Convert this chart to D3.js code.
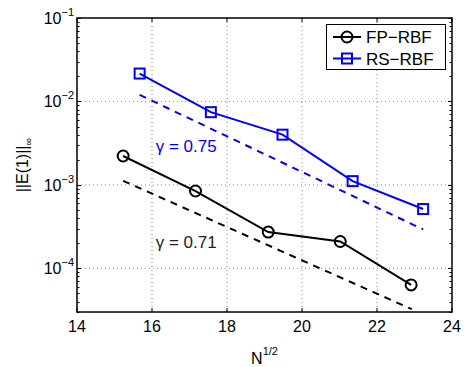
<!DOCTYPE html>
<html>
<head>
<meta charset="utf-8">
<script src="https://cdn.jsdelivr.net/npm/d3@7"></script>
<style>
  body { margin: 0; background: #fff; }
  svg { display: block; font-family: "Liberation Sans", Arial, sans-serif; }
</style>
</head>
<body>
<svg width="464" height="367"></svg>
<script>
// data
var fpX = [15.23, 17.16, 19.10, 21.02, 22.91];
var fpY = [2.22e-3, 8.45e-4, 2.72e-4, 2.10e-4, 6.34e-5];
var rsX = [15.67, 17.57, 19.48, 21.35, 23.23];
var rsY = [2.16e-2, 7.44e-3, 4.0e-3, 1.11e-3, 5.14e-4];
// reference slope lines (endpoints)
var fpFitX = [15.23, 22.93];
var fpFitY = [1.12e-3, 3.24e-5];
var rsFitX = [15.67, 23.23];
var rsFitY = [1.2e-2, 2.93e-4];
var xTicks = [14, 16, 18, 20, 22, 24];
var yTicks = [1e-4, 1e-3, 1e-2, 1e-1];
var yExp = ["\u22124", "\u22123", "\u22122", "\u22121"];

var svg = d3.select("svg"),
    margin = { top: 18, right: 12, bottom: 55, left: 77 },
    width = svg.attr("width") - margin.left - margin.right,
    height = svg.attr("height") - margin.top - margin.bottom;

var xScale = d3.scaleLinear().domain([14, 24]).range([0, width]),
    yScale = d3.scaleLog().domain([3e-5, 1e-1]).range([height, 0]);

var g = svg.append("g")
    .attr("transform", "translate(" + margin.left + "," + margin.top + ")");

// dotted grid
g.selectAll(".gx")
    .data(xTicks.slice(1, -1))
    .enter().append("line")
    .attr("x1", d => xScale(d)).attr("x2", d => xScale(d))
    .attr("y1", 0).attr("y2", height)
    .attr("stroke", "#888").attr("stroke-width", 1)
    .attr("stroke-dasharray", "1,3");
g.selectAll(".gy")
    .data(yTicks.slice(0, -1))
    .enter().append("line")
    .attr("x1", 0).attr("x2", width)
    .attr("y1", d => yScale(d)).attr("y2", d => yScale(d))
    .attr("stroke", "#888").attr("stroke-width", 1)
    .attr("stroke-dasharray", "1,3");

// minor/major ticks on log axis (left & right, inward)
var minor = [];
for (var e = -5; e < -1; e++) {
    for (var m = 1; m <= 9; m++) {
        var v = m * Math.pow(10, e);
        if (v >= 3e-5 && v <= 1e-1) minor.push({ v: v, major: m === 1 });
    }
}
minor.push({ v: 1e-1, major: true });
[0, width].forEach(function(x0) {
    var dir = x0 === 0 ? 1 : -1;
    g.selectAll(null)
        .data(minor)
        .enter().append("line")
        .attr("x1", x0)
        .attr("x2", d => x0 + dir * (d.major ? 4 : 2.5))
        .attr("y1", d => Math.round(yScale(d.v)) + 0.5)
        .attr("y2", d => Math.round(yScale(d.v)) + 0.5)
        .attr("stroke", "#000").attr("stroke-width", 1);
});
// x ticks (bottom & top, inward)
[0, height].forEach(function(y0) {
    var dir = y0 === 0 ? 1 : -1;
    g.selectAll(null)
        .data(xTicks)
        .enter().append("line")
        .attr("x1", d => xScale(d)).attr("x2", d => xScale(d))
        .attr("y1", y0).attr("y2", y0 + dir * 4)
        .attr("stroke", "#000").attr("stroke-width", 1);
});

// frame
g.append("rect")
    .attr("width", width).attr("height", height)
    .attr("fill", "none").attr("stroke", "#000").attr("stroke-width", 1.5);

// x tick labels
g.selectAll(".xl")
    .data(xTicks)
    .enter().append("text")
    .attr("x", d => xScale(d))
    .attr("y", height + 20)
    .attr("text-anchor", "middle")
    .attr("font-size", 16)
    .text(d => d);

// y tick labels
var yl = g.selectAll(".yl")
    .data(yTicks)
    .enter().append("text")
    .attr("x", -3)
    .attr("y", d => yScale(d) + 6)
    .attr("text-anchor", "end")
    .attr("font-size", 16);
yl.append("tspan").text("10");
yl.append("tspan").attr("dy", -8).attr("font-size", 11).text((d, i) => yExp[i]);

// axis labels
var xlab = svg.append("text")
    .attr("x", margin.left + width / 2)
    .attr("y", 364)
    .attr("text-anchor", "middle")
    .attr("font-size", 16);
xlab.append("tspan").text("N");
xlab.append("tspan").attr("dy", -9).attr("font-size", 11).text("1/2");

var ylab = svg.append("text")
    .attr("transform", "translate(28," + (margin.top + height / 2) + ") rotate(-90)")
    .attr("text-anchor", "middle")
    .attr("font-size", 16);
ylab.append("tspan").text("||E(1)||");
ylab.append("tspan").attr("dy", 4).attr("font-size", 11).text("\u221e");

var line = d3.line().x(d => xScale(d[0])).y(d => yScale(d[1]));

// reference slope lines
g.append("path")
    .attr("d", line(d3.zip(rsFitX, rsFitY)))
    .attr("fill", "none").attr("stroke", "#0000ff")
    .attr("stroke-width", 2).attr("stroke-dasharray", "7,6");
g.append("path")
    .attr("d", line(d3.zip(fpFitX, fpFitY)))
    .attr("fill", "none").attr("stroke", "#000")
    .attr("stroke-width", 2).attr("stroke-dasharray", "7,6");

// series
g.append("path")
    .attr("d", line(d3.zip(fpX, fpY)))
    .attr("fill", "none").attr("stroke", "#000").attr("stroke-width", 2);
g.selectAll(".fp")
    .data(d3.zip(fpX, fpY))
    .enter().append("circle")
    .attr("cx", d => xScale(d[0])).attr("cy", d => yScale(d[1]))
    .attr("r", 5.5)
    .attr("fill", "none").attr("stroke", "#000").attr("stroke-width", 2);

g.append("path")
    .attr("d", line(d3.zip(rsX, rsY)))
    .attr("fill", "none").attr("stroke", "#0000ff").attr("stroke-width", 2);
g.selectAll(".rs")
    .data(d3.zip(rsX, rsY))
    .enter().append("rect")
    .attr("x", d => xScale(d[0]) - 5).attr("y", d => yScale(d[1]) - 5)
    .attr("width", 10).attr("height", 10)
    .attr("fill", "none").attr("stroke", "#0000ff").attr("stroke-width", 2);

// slope annotations
g.append("text")
    .attr("x", xScale(16.1)).attr("y", 152 - margin.top)
    .attr("font-size", 17).attr("fill", "#0000ff")
    .text("\u03b3 = 0.75");
g.append("text")
    .attr("x", xScale(16.1)).attr("y", 248 - margin.top)
    .attr("font-size", 17).attr("fill", "#222")
    .text("\u03b3 = 0.71");

// legend
var leg = svg.append("g");
leg.append("rect")
    .attr("x", 326.5).attr("y", 24.5).attr("width", 119).attr("height", 45)
    .attr("fill", "#fff").attr("stroke", "#000").attr("stroke-width", 1);
var entries = [
    { name: "FP\u2212RBF", color: "#000", shape: "circle", y: 37 },
    { name: "RS\u2212RBF", color: "#0000ff", shape: "square", y: 58.5 }
];
entries.forEach(function(en) {
    leg.append("line")
        .attr("x1", 333).attr("x2", 361)
        .attr("y1", en.y).attr("y2", en.y)
        .attr("stroke", en.color).attr("stroke-width", 2);
    if (en.shape === "circle") {
        leg.append("circle").attr("cx", 347).attr("cy", en.y).attr("r", 5.5)
            .attr("fill", "none").attr("stroke", en.color).attr("stroke-width", 2);
    } else {
        leg.append("rect").attr("x", 342).attr("y", en.y - 5).attr("width", 10).attr("height", 10)
            .attr("fill", "none").attr("stroke", en.color).attr("stroke-width", 2);
    }
    leg.append("text")
        .attr("x", 366).attr("y", en.y + 6)
        .attr("font-size", 17)
        .text(en.name);
});
</script>
</body>
</html>
